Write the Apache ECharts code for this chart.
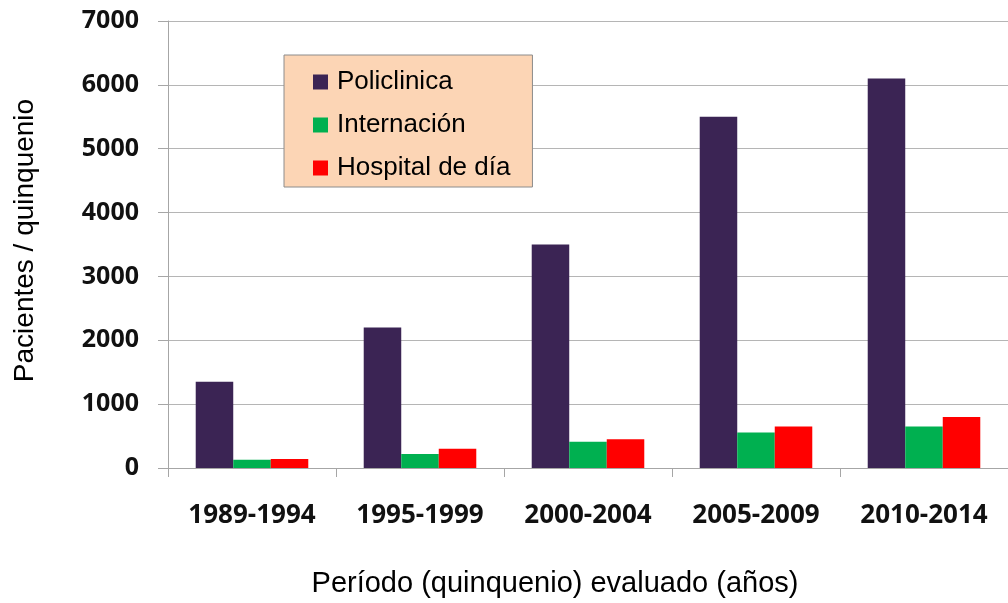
<!DOCTYPE html>
<html>
<head>
<meta charset="utf-8">
<script src="https://cdn.jsdelivr.net/npm/echarts@6/dist/echarts.min.js"></script>
<style>html,body{margin:0;padding:0;background:#fff}#c{width:1008px;height:603px}</style>
</head>
<body>
<div id="c"></div>
<script>
const categories = ['1989-1994', '1995-1999', '2000-2004', '2005-2009', '2010-2014'];
const policlinica = [1350, 2200, 3500, 5500, 6100];
const internacion = [130, 220, 410, 555, 650];
const hospitalDia = [140, 300, 450, 650, 800];
const yTicks = { min: 0, max: 7000, interval: 1000 };

const chart = echarts.init(document.getElementById('c'));
chart.setOption({
  animation: false,
  backgroundColor: '#ffffff',
  grid: { left: 168, top: 21, bottom: 134, right: -10, containLabel: false },
  legend: {
    orient: 'vertical',
    left: 284, top: 55,
    backgroundColor: '#FCD5B5',
    borderColor: '#8c8c8c',
    borderWidth: 1,
    padding: [14, 22, 6, 29],
    itemGap: 17,
    itemWidth: 15, itemHeight: 15,
    icon: 'rect',
    textStyle: { fontFamily: 'Liberation Sans', fontSize: 26, color: '#000', padding: [0, 0, 0, 4] },
    data: ['Policlinica', 'Internación', 'Hospital de día']
  },
  xAxis: {
    type: 'category',
    data: categories,
    name: 'Período (quinquenio) evaluado (años)',
    nameLocation: 'middle',
    nameGap: 101,
    nameTextStyle: { fontFamily: 'Liberation Sans', fontSize: 29, color: '#000', padding: [0, 66, 0, 0] },
    axisLine: { lineStyle: { color: '#a6a6a6', width: 1 } },
    axisTick: { show: true, length: 9, alignWithLabel: false, lineStyle: { color: '#a6a6a6' } },
    axisLabel: { margin: 35, fontFamily: 'Open Sans', fontWeight: 'bold', fontSize: 26, color: '#111' }
  },
  yAxis: {
    type: 'value',
    min: yTicks.min, max: yTicks.max, interval: yTicks.interval,
    name: 'Pacientes / quinquenio',
    nameLocation: 'middle',
    nameGap: 129,
    nameRotate: 90,
    nameTextStyle: { fontFamily: 'Liberation Sans', fontSize: 28, color: '#000', padding: [0, 0, 0, 8] },
    axisLine: { show: true, lineStyle: { color: '#a6a6a6', width: 1 } },
    axisTick: { show: true, length: 10, lineStyle: { color: '#a6a6a6' } },
    axisLabel: { margin: 29, fontFamily: 'Open Sans', fontWeight: 'bold', fontSize: 25, color: '#111', formatter: function (v) { return String(v); } },
    splitLine: { show: true, lineStyle: { color: '#b5b5b5', width: 1 } }
  },
  series: [
    { name: 'Policlinica', type: 'bar', data: policlinica, barGap: '0%', barCategoryGap: '33%', itemStyle: { color: '#3B2454' } },
    { name: 'Internación', type: 'bar', data: internacion, barGap: '0%', barCategoryGap: '33%', itemStyle: { color: '#00B050' } },
    { name: 'Hospital de día', type: 'bar', data: hospitalDia, barGap: '0%', barCategoryGap: '33%', itemStyle: { color: '#FF0000' } }
  ]
});
</script>
</body>
</html>
